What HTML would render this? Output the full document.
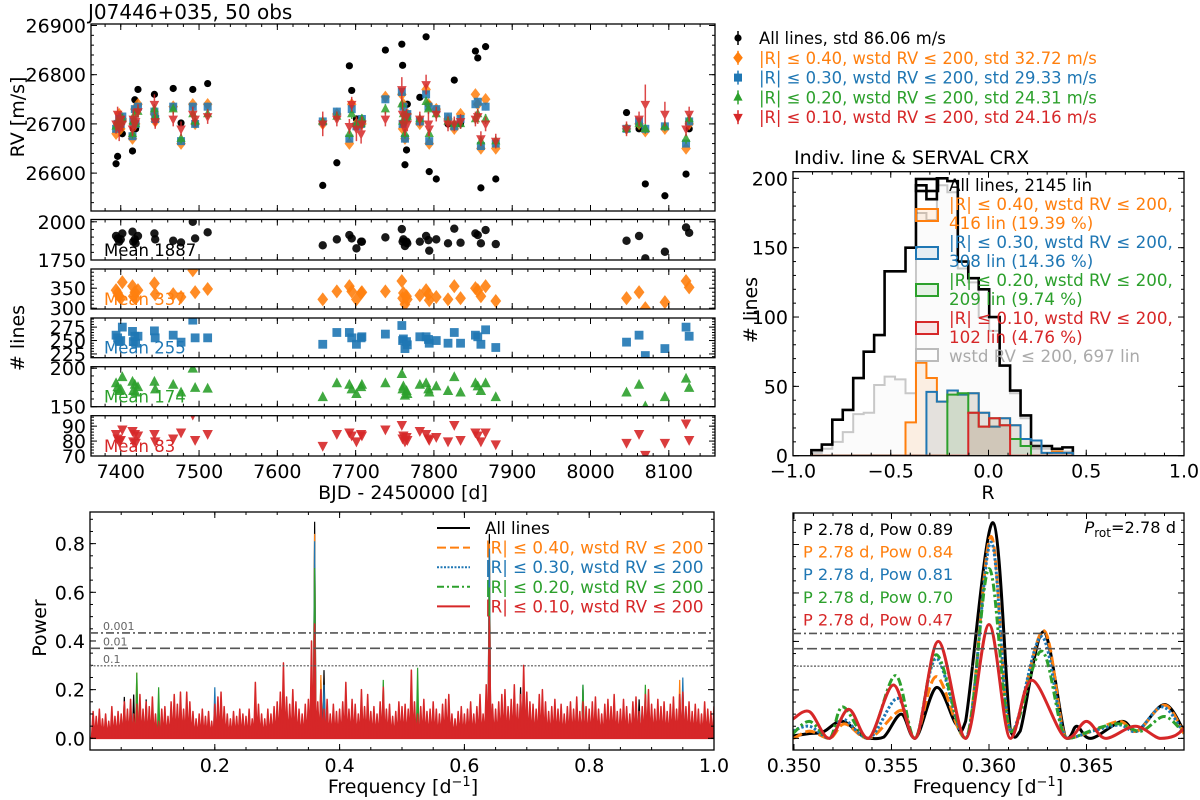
<!DOCTYPE html>
<html><head><meta charset="utf-8"><title>J07446+035 RV diagnostics</title>
<style>
html,body{margin:0;padding:0;background:#fff;}
svg{display:block;font-family:"DejaVu Sans","Liberation Sans",sans-serif;}
</style></head>
<body>
<svg id="chart" width="1200" height="800" viewBox="0 0 1200 800" xmlns="http://www.w3.org/2000/svg">
<rect x="0" y="0" width="1200" height="800" fill="#fff"/>
<text x="88" y="19" font-size="20">J07446+035, 50 obs</text>
<text x="794" y="164" font-size="19">Indiv. line &amp; SERVAL CRX</text>
<text transform="translate(24,117) rotate(-90)" text-anchor="middle" font-size="19">RV [m/s]</text>
<text transform="translate(24,338) rotate(-90)" text-anchor="middle" font-size="19"># lines</text>
<text x="403" y="499" text-anchor="middle" font-size="19">BJD - 2450000 [d]</text>
<text transform="translate(46,628) rotate(-90)" text-anchor="middle" font-size="19">Power</text>
<text x="403" y="793" text-anchor="middle" font-size="19">Frequency [d<tspan dy="-7" font-size="13">−1</tspan><tspan dy="7">]</tspan></text>
<text x="988" y="793" text-anchor="middle" font-size="19">Frequency [d<tspan dy="-7" font-size="13">−1</tspan><tspan dy="7">]</tspan></text>
<text transform="translate(757,310) rotate(-90)" text-anchor="middle" font-size="19"># lines</text>
<text x="988" y="499" text-anchor="middle" font-size="19">R</text>
</svg>
<script>
// ---------- data: time series ----------
const obsTimes = [7394,7396,7398,7400,7402,7415,7416,7418,7419,7422,7443,7444,7467,7477,7492,7495,7511,7658,7676,7692,7695,7701,7707,7708,7738,7759,7760,7761,7763,7765,7766,7782,7790,7793,7794,7803,7818,7826,7834,7853,7856,7860,7866,7879,8046,8062,8070,8095,8122,8126];
const rvAll = [26619,26634,26700,26690,26680,26645,26690,26749,26690,26770,26760,26715,26772,26702,26770,26700,26782,26575,26621,26818,26768,26710,26700,26700,26850,26862,26819,26700,26617,26647,26740,26754,26877,26740,26603,26588,26700,26789,26700,26848,26834,26570,26857,26588,26723,26690,26578,26554,26598,26690];
const rvR40 = [26680,26700,26720,26690,26710,26670,26700,26730,26700,26740,26720,26705,26735,26660,26740,26700,26740,26700,26720,26660,26740,26700,26705,26700,26755,26760,26690,26740,26670,26710,26720,26700,26770,26740,26660,26730,26710,26690,26720,26760,26740,26650,26750,26650,26690,26700,26685,26690,26650,26700];
const rvR30 = [26690,26700,26710,26700,26715,26675,26705,26730,26700,26735,26725,26710,26735,26665,26735,26700,26735,26705,26725,26670,26730,26695,26700,26710,26750,26765,26700,26735,26670,26715,26720,26705,26760,26735,26665,26730,26715,26695,26710,26740,26745,26655,26735,26660,26690,26705,26690,26695,26660,26705];
const rvR20 = [26695,26705,26700,26705,26710,26680,26705,26720,26700,26725,26730,26715,26730,26670,26720,26705,26720,26705,26715,26680,26720,26700,26700,26710,26730,26740,26705,26720,26680,26710,26715,26710,26745,26730,26680,26720,26705,26700,26700,26710,26720,26665,26710,26665,26690,26700,26690,26695,26670,26710];
const rvR10 = [26700,26720,26690,26710,26700,26690,26710,26700,26705,26725,26740,26705,26710,26690,26720,26710,26715,26700,26710,26695,26740,26690,26680,26700,26710,26770,26720,26700,26690,26715,26700,26710,26780,26700,26690,26720,26700,26700,26705,26710,26715,26670,26700,26665,26690,26710,26740,26720,26690,26720];
const rvR10Err = [20,15,25,15,15,15,20,15,15,15,20,15,15,15,15,15,15,25,15,15,15,25,20,15,15,25,25,15,15,15,15,15,20,25,15,15,15,15,15,15,15,15,15,15,15,15,40,25,15,15];
const nAll = [1907,1891,1870,1885,1924,1935,1870,1885,1859,1907,1924,1885,1876,1865,2000,1891,1931,1846,1885,1913,1891,1826,1870,1870,1898,1952,1870,1885,1841,1870,1859,1870,1907,1880,1811,1885,1859,1955,1863,1924,1913,1859,1946,1854,1876,1907,1761,1804,1963,1928];
const nR40 = [345,338,330,325,365,355,330,340,325,345,362,335,335,328,395,340,348,322,342,355,342,322,338,340,342,368,325,338,310,330,322,332,345,335,320,328,322,355,325,350,345,330,355,318,325,340,300,315,368,352];
const nR30 = [260,255,248,250,275,267,248,258,245,258,268,255,260,247,288,255,255,243,265,265,255,243,255,257,262,278,250,253,235,248,242,257,257,252,245,250,245,265,245,260,257,243,270,237,247,260,222,235,275,258];
const nR20 = [180,175,170,172,188,182,170,178,168,175,182,172,178,168,199,174,173,162,180,178,172,166,175,178,180,192,172,176,164,170,166,178,180,172,168,176,170,188,168,180,176,170,180,162,168,178,150,162,186,174];
const nR10 = [85,82,80,81,88,87,80,85,79,84,85,80,82,86,98,81,85,77,85,86,84,80,85,84,88,91,82,84,80,83,81,87,85,82,81,83,80,91,81,86,84,80,86,78,79,85,71,79,92,81];
const meanLabels = ['Mean 1887','Mean 337','Mean 255','Mean 174','Mean 83'];
const rvLegend = ['All lines, std 86.06 m/s','|R| \u2264 0.40, wstd RV \u2264 200, std 32.72 m/s','|R| \u2264 0.30, wstd RV \u2264 200, std 29.33 m/s','|R| \u2264 0.20, wstd RV \u2264 200, std 24.31 m/s','|R| \u2264 0.10, wstd RV \u2264 200, std 24.16 m/s'];
// ---------- data: histogram ----------
const histStart = -0.906;
const histWidth = 0.0535;
const histAll = [4,8,26,33,56,75,87,133,133,150,195,185,200,198,140,128,120,100,65,47,29,7,7,5,6];
const histWstd = [2,5,10,17,30,31,51,57,55,45,175,170,195,190,135,125,100,90,65,45,27,5,5,3,3];
const histR40 = [0,0,0,0,0,0,0,0,0,24,67,56,39,47,44,45,31,21,27,22,12,11,2,3,2];
const histR30 = [0,0,0,0,0,0,0,0,0,0,0,46,39,47,44,45,31,21,27,22,12,11,2,2,2];
const histR20 = [0,0,0,0,0,0,0,0,0,0,0,0,0,44,45,31,21,27,22,12,7,0,0,0,0];
const histR10 = [0,0,0,0,0,0,0,0,0,0,0,0,0,0,0,31,21,27,22,0,0,0,0,0,0];
const histLegend = [['All lines, 2145 lin'],['|R| \u2264 0.40, wstd RV \u2264 200,','416 lin (19.39 %)'],['|R| \u2264 0.30, wstd RV \u2264 200,','308 lin (14.36 %)'],['|R| \u2264 0.20, wstd RV \u2264 200,','209 lin (9.74 %)'],['|R| \u2264 0.10, wstd RV \u2264 200,','102 lin (4.76 %)'],['wstd RV \u2264 200, 697 lin']];
// ---------- data: periodogram ----------
const pgStep = 0.005;
const pgRed = [0.11,0.09,0.12,0.08,0.10,0.07,0.13,0.09,0.11,0.10,
0.15,0.12,0.16,0.10,0.14,0.18,0.12,0.15,0.13,0.17,
0.10,0.07,0.12,0.13,0.09,0.15,0.18,0.14,0.19,0.12,
0.19,0.15,0.11,0.08,0.10,0.12,0.09,0.11,0.07,0.14,
0.17,0.19,0.13,0.10,0.08,0.11,0.09,0.12,0.10,0.09,
0.12,0.08,0.23,0.14,0.10,0.08,0.12,0.10,0.13,0.15,
0.19,0.31,0.17,0.14,0.20,0.15,0.12,0.10,0.14,0.16,
0.40,0.47,0.15,0.20,0.12,0.16,0.10,0.14,0.11,0.12,
0.15,0.23,0.12,0.16,0.14,0.10,0.20,0.13,0.18,0.11,
0.13,0.10,0.15,0.21,0.12,0.14,0.09,0.11,0.15,0.13,
0.14,0.12,0.28,0.15,0.10,0.13,0.16,0.11,0.12,0.15,
0.12,0.10,0.14,0.16,0.18,0.10,0.08,0.11,0.13,0.10,
0.12,0.15,0.10,0.13,0.18,0.10,0.22,0.50,0.14,0.12,
0.15,0.18,0.20,0.13,0.16,0.22,0.14,0.18,0.30,0.19,
0.15,0.14,0.12,0.18,0.20,0.15,0.11,0.13,0.16,0.12,
0.14,0.10,0.13,0.15,0.12,0.17,0.11,0.15,0.13,0.12,
0.15,0.17,0.12,0.10,0.14,0.16,0.13,0.18,0.11,0.12,
0.16,0.13,0.10,0.15,0.17,0.11,0.13,0.18,0.20,0.14,
0.12,0.16,0.13,0.15,0.11,0.14,0.17,0.12,0.18,0.19,
0.13,0.15,0.11,0.14,0.12,0.10,0.15,0.12,0.11,0.13];
const pgBlackPeaks = [[0.36,0.89],[0.64,0.84],[0.055,0.17],[0.07,0.18],[0.09,0.16],[0.375,0.28],[0.84,0.15],[0.95,0.2],[0.88,0.16],[0.79,0.2],[0.69,0.21],[0.37,0.24]];
const pgOrangePeaks = [[0.36,0.84],[0.64,0.80],[0.075,0.27],[0.37,0.26],[0.945,0.24],[0.79,0.2]];
const pgBluePeaks = [[0.36,0.81],[0.64,0.78],[0.2,0.21],[0.375,0.22],[0.95,0.25],[0.79,0.22]];
const pgGreenPeaks = [[0.36,0.70],[0.64,0.62],[0.075,0.27],[0.11,0.21],[0.525,0.29],[0.89,0.22],[0.79,0.22],[0.47,0.24]];
const fapLevels = [0.433,0.37,0.298];
const fapLabels = ['0.001','0.01','0.1'];
const pgLegend = ['All lines','|R| \u2264 0.40, wstd RV \u2264 200','|R| \u2264 0.30, wstd RV \u2264 200','|R| \u2264 0.20, wstd RV \u2264 200','|R| \u2264 0.10, wstd RV \u2264 200'];
// zoomed periodogram keypoints
const zBlackF = [0.34995,0.3508,0.3515,0.3525,0.3538,0.3546,0.3555,0.3562,0.3573,0.3583,0.3588,0.3602,0.3611,0.3616,0.3628,0.3640,0.3645,0.3652,0.3668,0.3676,0.3690,0.3700];
const zBlackP = [0.01,0.02,0.027,0.07,0.0,0.005,0.10,0.0,0.21,0.06,0.07,0.89,0.03,0.03,0.44,0.0,0.05,0.0,0.07,0.03,0.14,0.03];
const zOrangeF = [0.34995,0.3508,0.3518,0.3526,0.3538,0.3555,0.3562,0.3573,0.3588,0.3601,0.3611,0.3628,0.3640,0.3653,0.3667,0.3676,0.3690,0.3700];
const zOrangeP = [0.0,0.03,0.0,0.06,0.0,0.116,0.0,0.255,0.0,0.833,0.03,0.445,0.0,0.03,0.07,0.03,0.137,0.02];
const zBlueF = [0.34995,0.3508,0.3518,0.3525,0.3538,0.3553,0.3562,0.3573,0.3588,0.3601,0.3611,0.3627,0.3640,0.3653,0.3667,0.3676,0.3689,0.3700];
const zBlueP = [0.03,0.05,0.0,0.08,0.0,0.165,0.0,0.33,0.0,0.81,0.03,0.42,0.0,0.03,0.055,0.03,0.13,0.02];
const zGreenF = [0.34995,0.3508,0.3518,0.3525,0.3538,0.3552,0.3562,0.3573,0.3588,0.3600,0.3611,0.3627,0.3640,0.3655,0.3667,0.3678,0.3690,0.3700];
const zGreenP = [0.02,0.07,0.0,0.13,0.0,0.259,0.0,0.345,0.0,0.70,0.03,0.36,0.0,0.04,0.06,0.03,0.09,0.02];
const zRedF = [0.34995,0.3508,0.3518,0.3528,0.3538,0.3551,0.3562,0.3574,0.3588,0.3600,0.3611,0.3622,0.3640,0.3650,0.3660,0.3675,0.3688,0.3695,0.3700];
const zRedP = [0.08,0.11,0.0,0.12,0.0,0.22,0.0,0.40,0.0,0.47,0.0,0.24,0.0,0.07,0.0,0.05,0.0,0.01,0.04];
const zLabels = ['P 2.78 d, Pow 0.89','P 2.78 d, Pow 0.84','P 2.78 d, Pow 0.81','P 2.78 d, Pow 0.70','P 2.78 d, Pow 0.47'];

// ---------- rendering ----------
const NS = 'http://www.w3.org/2000/svg';
const svg = document.getElementById('chart');
const COLORS = ['#000000','#ff7f0e','#1f77b4','#2ca02c','#d62728'];
const TICK_FS = 19;
let clipId = 0;
function mk(tag, attrs, parent) {
  const e = document.createElementNS(NS, tag);
  for (const k in attrs) e.setAttribute(k, attrs[k]);
  (parent || svg).appendChild(e);
  return e;
}
function lin(d0, d1, r0, r1) { return v => r0 + (v - d0) * (r1 - r0) / (d1 - d0); }
function range(a, b, s) { const out = []; for (let v = a; v <= b + s * 1e-6; v += s) out.push(Math.round(v / s) * s); return out; }

function makeAxes(name, x0, y0, w, h, xd, yd, o) {
  const g = mk('g', {});
  
  
  const X = lin(xd[0], xd[1], x0, x0 + w), Y = lin(yd[0], yd[1], y0 + h, y0);
  const cid = 'clip' + (clipId++);
  const cp = mk('clipPath', { id: cid }, g);
  mk('rect', { x: x0, y: y0, width: w, height: h }, cp);
  const plot = mk('g', { 'clip-path': 'url(#' + cid + ')' }, g);
  
  
  const tg = mk('g', { stroke: '#000', 'stroke-width': 1 }, g);
  
  
  const inx = v => v >= xd[0] - 1e-9 && v <= xd[1] + 1e-9;
  const iny = v => v >= Math.min(yd[0], yd[1]) - 1e-9 && v <= Math.max(yd[0], yd[1]) + 1e-9;
  (o.xminor || []).filter(inx).forEach(v => { const p = X(v); mk('line', { x1: p, x2: p, y1: y0 + h, y2: y0 + h - 3 }, tg); mk('line', { x1: p, x2: p, y1: y0, y2: y0 + 3 }, tg); });
  (o.xmajor || []).filter(inx).forEach(v => { const p = X(v); mk('line', { x1: p, x2: p, y1: y0 + h, y2: y0 + h - 6 }, tg); mk('line', { x1: p, x2: p, y1: y0, y2: y0 + 6 }, tg); });
  (o.yminor || []).filter(iny).forEach(v => { const p = Y(v); mk('line', { y1: p, y2: p, x1: x0, x2: x0 + 3 }, tg); mk('line', { y1: p, y2: p, x1: x0 + w, x2: x0 + w - 3 }, tg); });
  (o.ymajor || []).filter(iny).forEach(v => { const p = Y(v); mk('line', { y1: p, y2: p, x1: x0, x2: x0 + 6 }, tg); mk('line', { y1: p, y2: p, x1: x0 + w, x2: x0 + w - 6 }, tg); });
  if (o.xlabels) o.xmajor.filter(inx).forEach(v => {
    const t = mk('text', { x: X(v), y: y0 + h + 22, 'text-anchor': 'middle', 'font-size': TICK_FS }, g);
    t.textContent = o.xfmt(v);
    
    
  });
  if (o.ylabels) o.ymajor.filter(iny).forEach(v => {
    const t = mk('text', { x: x0 - 5, y: Y(v) + 7, 'text-anchor': 'end', 'font-size': TICK_FS }, g);
    t.textContent = o.yfmt(v);
    
    
  });
  const fr = mk('rect', { x: x0, y: y0, width: w, height: h, fill: 'none', stroke: '#000', 'stroke-width': 1.3 }, g);
  
  
  return { X, Y, g, plot };
}

function marker(kind, cx, cy, s, color, parent) {
  let e;
  if (kind === 0) e = mk('circle', { cx, cy, r: s, fill: color }, parent);
  else if (kind === 1) e = mk('path', { d: `M${cx} ${cy - s * 1.3}L${cx + s} ${cy}L${cx} ${cy + s * 1.3}L${cx - s} ${cy}Z`, fill: color }, parent);
  else if (kind === 2) e = mk('rect', { x: cx - s, y: cy - s, width: 2 * s, height: 2 * s, fill: color }, parent);
  else if (kind === 3) e = mk('path', { d: `M${cx} ${cy - s * 1.2}L${cx + s} ${cy + s * 0.7}L${cx - s} ${cy + s * 0.7}Z`, fill: color }, parent);
  else e = mk('path', { d: `M${cx} ${cy + s * 1.2}L${cx + s} ${cy - s * 0.7}L${cx - s} ${cy - s * 0.7}Z`, fill: color }, parent);
  return e;
}
const fmt0 = v => String(Math.round(v));
const BJD = [7362, 8159];
const AX_L = 91, AX_W = 624;

// --- RV panel ---
const rv = makeAxes('rv-panel', AX_L, 24, AX_W, 187, BJD, [26523, 26903], {
  xmajor: range(7400, 8100, 100), xminor: range(7380, 8150, 20),
  ymajor: [26600, 26700, 26800, 26900], yminor: range(26540, 26900, 20),
  ylabels: true, yfmt: fmt0 });
const rvSeries = [rvAll, rvR40, rvR30, rvR20, rvR10];
const rvErrConst = [4, 8, 8, 10, 0];
const rvSizes = [3.6, 4.8, 4, 4.6, 4.8];
const seriesNames = ['all-lines', 'r040', 'r030', 'r020', 'r010'];
rvSeries.forEach((ser, si) => {
  const sg = mk('g', { opacity: si === 0 ? 1 : 0.85 }, rv.plot);
  
  
  ser.forEach((v, i) => {
    const cx = rv.X(obsTimes[i]), err = si === 4 ? rvR10Err[i] : rvErrConst[si];
    const eb = mk('line', { x1: cx, x2: cx, y1: rv.Y(v - err), y2: rv.Y(v + err), stroke: COLORS[si], 'stroke-width': 1.5 }, sg);
    
    
    const m = marker(si, cx, rv.Y(v), rvSizes[si], COLORS[si], sg);
    
    
  });
});
// RV legend
rvLegend.forEach((lab, i) => {
  const y = 38 + i * 19.8;
  const ln = mk('line', { x1: 738, x2: 738, y1: y - 7, y2: y + 7, stroke: COLORS[i], 'stroke-width': 1.5 });
  
  
  const m = marker(i, 738, y, rvSizes[i], COLORS[i]);
  
  
  const t = mk('text', { x: 759, y: y + 6, 'font-size': 16.4, fill: COLORS[i] });
  t.textContent = lab;
  
  
});

// --- number-of-lines panels ---
const nSeries = [nAll, nR40, nR30, nR20, nR10];
const nPanels = [
  { y0: 219.5, h: 40.5, yd: [1750, 2015], maj: [1750, 2000], min: range(1750, 2000, 50) },
  { y0: 269, h: 40, yd: [298, 398], maj: [300, 350], min: range(300, 390, 10) },
  { y0: 318, h: 39.7, yd: [218, 292], maj: [225, 250, 275], min: range(220, 290, 5) },
  { y0: 366.7, h: 40, yd: [150, 202], maj: [150, 200], min: range(150, 200, 10) },
  { y0: 415.7, h: 40.3, yd: [70, 97], maj: [70, 80, 90], min: range(70, 96, 2) }];
const nSizes = [4.2, 5.4, 4.4, 5.2, 5.2];
nPanels.forEach((p, si) => {
  const last = si === 4;
  const a = makeAxes('nlines-panel-' + seriesNames[si], AX_L, p.y0, AX_W, p.h, BJD, p.yd, {
    xmajor: range(7400, 8100, 100), xminor: range(7380, 8150, 20),
    ymajor: p.maj, yminor: p.min, ylabels: true, yfmt: fmt0,
    xlabels: last, xfmt: fmt0 });
  nSeries[si].forEach((v, i) => {
    const m = marker(si, a.X(obsTimes[i]), a.Y(v), nSizes[si], COLORS[si], a.plot);
    m.setAttribute('opacity', '0.9');
    
    
  });
  const t = mk('text', { x: 104, y: p.y0 + p.h - 4, 'font-size': 16.5, fill: COLORS[si] }, a.g);
  t.textContent = meanLabels[si];
  
  
});

// --- histogram ---
const hist = makeAxes('histogram-panel', 793, 171.7, 391, 284, [-1, 1], [0, 204.8], {
  xmajor: [-1, -0.5, 0, 0.5, 1], xminor: range(-1, 1, 0.1),
  ymajor: [0, 50, 100, 150, 200], yminor: range(0, 200, 10),
  xlabels: true, xfmt: v => (v < 0 ? '\u2212' : '') + Math.abs(v).toFixed(1),
  ylabels: true, yfmt: fmt0 });
function stepPath(counts) {
  let d = `M${hist.X(histStart)} ${hist.Y(0)}`;
  counts.forEach((c, i) => {
    const a = histStart + i * histWidth, b = a + histWidth;
    d += `L${hist.X(a)} ${hist.Y(c)}L${hist.X(b)} ${hist.Y(c)}`;
  });
  return d + `L${hist.X(histStart + counts.length * histWidth)} ${hist.Y(0)}`;
}
const histDefs = [
  { c: histWstd, col: '#c8c8c8', fill: 'rgba(200,200,200,0.08)', w: 2, n: 'hist-wstd' },
  { c: histAll, col: '#000', fill: 'none', w: 2.6, n: 'hist-all-lines' },
  { c: histR40, col: COLORS[1], fill: 'rgba(255,127,14,0.1)', w: 2, n: 'hist-r040' },
  { c: histR30, col: COLORS[2], fill: 'rgba(31,119,180,0.1)', w: 2, n: 'hist-r030' },
  { c: histR20, col: COLORS[3], fill: 'rgba(44,160,44,0.1)', w: 2, n: 'hist-r020' },
  { c: histR10, col: COLORS[4], fill: 'rgba(214,39,40,0.1)', w: 2, n: 'hist-r010' }];
histDefs.forEach(h => {
  const p = mk('path', { d: stepPath(h.c), fill: h.fill, stroke: h.col, 'stroke-width': h.w, 'stroke-linejoin': 'miter' }, hist.plot);
  
  
});
const hlCols = ['#000', COLORS[1], COLORS[2], COLORS[3], COLORS[4], '#bbbbbb'];
const hlFills = ['none', 'rgba(255,127,14,0.1)', 'rgba(31,119,180,0.1)', 'rgba(44,160,44,0.1)', 'rgba(214,39,40,0.1)', 'rgba(255,255,255,0.6)'];
const hlBoxY = [185, 215, 253, 290, 328, 355];
const hlTextY = [185, 204, 242, 280, 318, 356];
histLegend.forEach((lines, i) => {
  const r = mk('rect', { x: 916, y: hlBoxY[i] - 6, width: 22, height: 12, fill: hlFills[i], stroke: hlCols[i], 'stroke-width': i === 0 ? 2.6 : 2 });
  
  
  lines.forEach((s, j) => {
    const t = mk('text', { x: 949, y: hlTextY[i] + 6 + j * 19, 'font-size': 16.7, fill: i === 5 ? '#aaaaaa' : hlCols[i] });
    t.textContent = s;
    
    
  });
});

// --- full periodogram ---
const pg = makeAxes('periodogram-panel', 90, 512, 624, 238, [0, 1], [-0.048, 0.93], {
  xmajor: [0.2, 0.4, 0.6, 0.8, 1.0], xminor: range(0, 1, 0.05),
  ymajor: [0, 0.2, 0.4, 0.6, 0.8], yminor: range(0, 0.9, 0.05),
  xlabels: true, xfmt: v => v.toFixed(1), ylabels: true, yfmt: v => v.toFixed(1) });
function spikes(peaks, col, parent, name) {
  let d = '';
  peaks.forEach(pk => { d += `M${pg.X(pk[0] - 0.0022)} ${pg.Y(0)}L${pg.X(pk[0])} ${pg.Y(pk[1])}L${pg.X(pk[0] + 0.0022)} ${pg.Y(0)}Z`; });
  const p = mk('path', { d, fill: col, stroke: col, 'stroke-width': 1.2 }, parent);
  
  
}
spikes(pgBlackPeaks, '#000', pg.plot, 'periodogram-all-lines');
spikes(pgOrangePeaks, COLORS[1], pg.plot, 'periodogram-r040');
spikes(pgBluePeaks, COLORS[2], pg.plot, 'periodogram-r030');
spikes(pgGreenPeaks, COLORS[3], pg.plot, 'periodogram-r020');
(function () {
  let d = `M${pg.X(0)} ${pg.Y(0)}`;
  pgRed.forEach((v, i) => {
    const f = (i + 1) * pgStep;
    d += `L${pg.X(f - pgStep / 2)} ${pg.Y(0.005)}L${pg.X(f)} ${pg.Y(v)}`;
  });
  d += `L${pg.X(1)} ${pg.Y(0)}Z`;
  const p = mk('path', { d, fill: COLORS[4], stroke: COLORS[4], 'stroke-width': 1.5, 'stroke-linejoin': 'round' }, pg.plot);
  
  
})();
const fapDash = ['8 3 2 3', '10 4', '2 1.5'];
function drawFap(ax, x0, x1, withLabels) {
  fapLevels.forEach((lv, i) => {
    const l = mk('line', { x1: x0, x2: x1, y1: ax.Y(lv), y2: ax.Y(lv), stroke: '#555', 'stroke-width': i === 2 ? 1.2 : 1.6, 'stroke-dasharray': fapDash[i] }, ax.g);
    
    
    if (withLabels) {
      const t = mk('text', { x: 103, y: ax.Y(lv) - 3, 'font-size': 11, fill: '#666' }, ax.g);
      t.textContent = fapLabels[i];
      
      
    }
  });
}
drawFap(pg, 90, 714, true);
const pgDash = ['none', '9 4', '2 1.5', '7 3 2 3', 'none'];
pgLegend.forEach((lab, i) => {
  const y = 528 + i * 19.6;
  const l = mk('line', { x1: 437, x2: 470, y1: y, y2: y, stroke: COLORS[i], 'stroke-width': 2, 'stroke-dasharray': pgDash[i] });
  
  
  const t = mk('text', { x: 485, y: y + 6, 'font-size': 16.7, fill: COLORS[i] });
  t.textContent = lab;
  
  
});

// --- zoomed periodogram ---
const zp = makeAxes('zoom-periodogram-panel', 793, 513, 391, 237, [0.34995, 0.370], [-0.048, 0.93], {
  xmajor: [0.350, 0.355, 0.360, 0.365], xminor: range(0.350, 0.370, 0.001),
  ymajor: [0, 0.2, 0.4, 0.6, 0.8], yminor: range(0, 0.9, 0.05),
  xlabels: true, xfmt: v => v.toFixed(3) });
drawFap(zp, 793, 1184, false);
function smooth(F, P) {
  const pts = F.map((f, i) => [zp.X(f), zp.Y(P[i])]);
  const yMax = zp.Y(0) + 1;
  let d = `M${pts[0][0]} ${pts[0][1]}`;
  for (let i = 0; i < pts.length - 1; i++) {
    const p0 = pts[Math.max(0, i - 1)], p1 = pts[i], p2 = pts[i + 1], p3 = pts[Math.min(pts.length - 1, i + 2)];
    const c1 = [p1[0] + (p2[0] - p0[0]) / 6, Math.min(yMax, p1[1] + (p2[1] - p0[1]) / 6)];
    const c2 = [p2[0] - (p3[0] - p1[0]) / 6, Math.min(yMax, p2[1] - (p3[1] - p1[1]) / 6)];
    if (P[i] === 0) c1[1] = p1[1];
    if (P[i + 1] === 0) c2[1] = p2[1];
    d += `C${c1[0]} ${c1[1]} ${c2[0]} ${c2[1]} ${p2[0]} ${p2[1]}`;
  }
  return d;
}
const zDefs = [[zBlackF, zBlackP], [zOrangeF, zOrangeP], [zBlueF, zBlueP], [zGreenF, zGreenP], [zRedF, zRedP]];
const zDash = ['none', '10 4', '2.5 2', '8 3 2.5 3', 'none'];
zDefs.forEach((s, i) => {
  const p = mk('path', { d: smooth(s[0], s[1]), fill: 'none', stroke: COLORS[i], 'stroke-width': 3, 'stroke-dasharray': zDash[i] }, zp.plot);
  
  
});
zLabels.forEach((lab, i) => {
  const t = mk('text', { x: 803, y: 535 + i * 22.6, 'font-size': 16.2, fill: COLORS[i] });
  t.textContent = lab;
  
  
});
(function () {
  const t = mk('text', { x: 1176, y: 533, 'font-size': 16.2, 'text-anchor': 'end' });
  
  
  t.innerHTML = '<tspan font-style="italic">P</tspan><tspan font-size="12" dy="4">rot</tspan><tspan dy="-4">=2.78 d</tspan>';
})();
</script>
</body></html>
